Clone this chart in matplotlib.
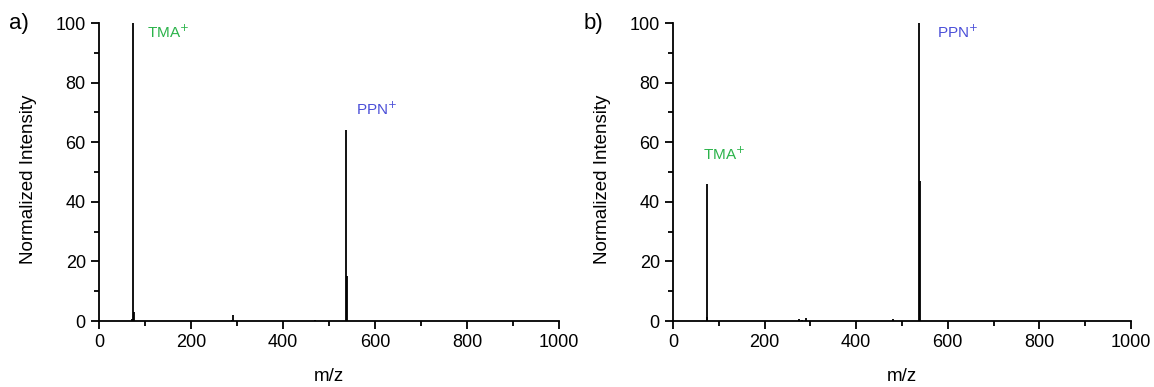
import matplotlib
matplotlib.use("Agg")
import matplotlib.pyplot as plt
from matplotlib.ticker import MultipleLocator

plt.rcParams['font.family'] = ['Liberation Sans', 'DejaVu Sans']

# Panel a peaks (m/z, normalized intensity)
mz_a = [72, 74, 75, 289, 291, 470, 538, 539]
int_a = [0.6, 100, 3, 0.5, 2, 0.4, 64, 15]
# Panel b peaks
mz_b = [74, 75, 276, 281, 291, 480, 538, 539]
int_b = [46, 1.5, 0.7, 0.5, 1, 0.6, 100, 47]

labels_a = [("TMA$^{+}$", 104, 97, "#2bb34a"), ("PPN$^{+}$", 559, 71, "#4b4fd8")]
labels_b = [("PPN$^{+}$", 576, 97, "#4b4fd8"), ("TMA$^{+}$", 66, 56, "#2bb34a")]

fig = plt.figure(figsize=(11.54, 3.87), dpi=100)
axa = fig.add_axes([99/1154, 1-321/387, 460/1154, 298/387])
axb = fig.add_axes([673/1154, 1-321/387, 458/1154, 298/387])

for ax, mz, inten, labs, tag in [(axa, mz_a, int_a, labels_a, "a)"), (axb, mz_b, int_b, labels_b, "b)")]:
    ax.vlines(mz, 0, inten, color="black", lw=1.3)
    ax.set_xlim(0, 1000)
    ax.set_ylim(0, 100)
    for s in ["top", "right"]:
        ax.spines[s].set_visible(False)
    for s in ["left", "bottom"]:
        ax.spines[s].set_linewidth(1.3)
    ax.xaxis.set_major_locator(MultipleLocator(200))
    ax.xaxis.set_minor_locator(MultipleLocator(100))
    ax.yaxis.set_major_locator(MultipleLocator(20))
    ax.yaxis.set_minor_locator(MultipleLocator(10))
    ax.tick_params(which="major", direction="out", length=6, width=1.3, labelsize=13)
    ax.tick_params(which="minor", direction="out", length=3.5, width=1.3)
    ax.set_xlabel("m/z", fontsize=13.5, labelpad=12)
    ax.set_ylabel("Normalized Intensity", fontsize=13.5)
    ax.yaxis.set_label_coords(-0.135, 0.475)
    for txt, x, y, c in labs:
        ax.text(x, y, txt, color=c, fontsize=11, ha="left", va="center")
    ax.text(-0.195, 1.0, tag, transform=ax.transAxes, fontsize=16, ha="left", va="center")

fig.savefig("out.png", dpi=100)
